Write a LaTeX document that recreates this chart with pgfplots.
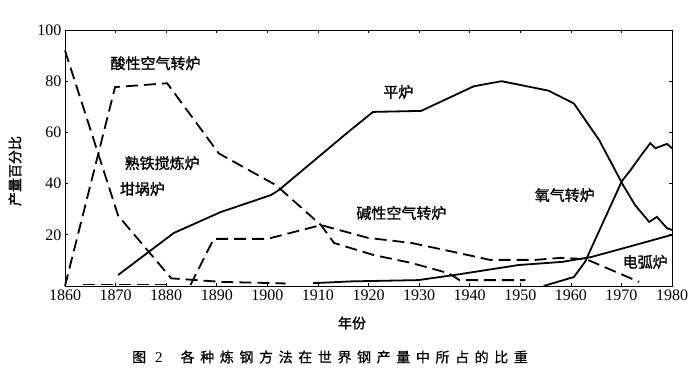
\documentclass[border=0pt]{standalone}
\usepackage{fontspec}
\setmainfont{Liberation Serif}
\newfontfamily\cjk{Noto Sans CJK SC}
\newfontfamily\cjkb[FakeBold=1.2]{Noto Sans CJK SC}
\newfontfamily\cjkspaced[LetterSpace=40,FakeBold=0.6]{Noto Sans CJK SC}
\usepackage{pgfplots}
\pgfplotsset{compat=1.18}
\begin{document}
\begin{tikzpicture}
\useasboundingbox (-65pt,-101pt) rectangle (635pt,286pt);
\begin{axis}[
  at={(0pt,0pt)}, anchor=south west,
  scale only axis, width=607pt, height=256pt,
  xmin=1860, xmax=1980, ymin=0, ymax=100,
  xtick={1860,1870,...,1980}, ytick={20,40,60,80,100},
  tick align=inside, major tick length=3pt,
  axis line style={line width=0.8pt},
  every tick/.style={line width=0.6pt, black},
  /pgf/number format/1000 sep={},
  /pgf/number format/assume math mode=true,
  ticklabel style={font=\fontsize{16}{18}\selectfont},
  clip=false,
  dashed line/.style={line width=1.8pt, black, dash pattern=on 12pt off 6pt},
  solid line/.style={line width=1.8pt, black},
]
% 熟铁搅炼炉 / 坩埚炉 (steep falling)
\addplot[dashed line] coordinates {(1860,92) (1870.5,27.5) (1881,3) (1891,1.6) (1903.6,1.0)};
% crucible near baseline
\addplot[dashed line] coordinates {(1863.5,0.6) (1881,0.6)};
% 酸性空气转炉
\addplot[dashed line] coordinates {(1860,0) (1869.9,77.7) (1880.2,79.2) (1890.4,51.8) (1901.7,39.4) (1910.6,23.8) (1913.2,16.8) (1916.5,14.8) (1921,12.1) (1928.5,9) (1935.8,5) (1938,2.3) (1951,2.3)};
% 碱性空气转炉
\addplot[dashed line] coordinates {(1884.8,0.4) (1889.4,18.4) (1900,18.4) (1910.6,23.8) (1919.9,18.8) (1928.5,16.8) (1937.8,12.9) (1944,10.2) (1953,10.2) (1958,11) (1963,10.5) (1973.5,1.6)};
% 平炉
\addplot[solid line] coordinates {(1870.5,4.3) (1881.5,20.7) (1890.8,28.9) (1900.7,35.5) (1902.3,37.5) (1916.5,61) (1920.9,68) (1930.4,68.4) (1940.8,78) (1946.3,80) (1955.6,76.3) (1960.6,71.3) (1965.6,57) (1970.3,39.5) (1972.7,31.6) (1975.5,25) (1977,27) (1979,22.6) (1980,21.9)};
% 氧气转炉
\addplot[solid line] coordinates {(1954.6,0) (1960.6,3.5) (1962.8,9.4) (1970.1,41) (1971.7,45) (1973.7,50.5) (1975.7,55.8) (1976.7,53.8) (1979,55.5) (1980,53.8)};
% 电弧炉
\addplot[solid line] coordinates {(1909,1.1) (1916.5,1.8) (1929.8,2.3) (1937,4.3) (1949.7,8.2) (1958.2,9.4) (1964,11.3) (1972.7,16) (1980,20)};

\node[font=\cjkb\fontsize{15}{17}\selectfont] at (axis cs:1877.9,87) {酸性空气转炉};
\node[font=\cjkb\fontsize{15}{17}\selectfont] at (axis cs:1879.2,48) {熟铁搅炼炉};
\node[font=\cjkb\fontsize{15}{17}\selectfont] at (axis cs:1875.3,37.9) {坩埚炉};
\node[font=\cjkb\fontsize{15}{17}\selectfont] at (axis cs:1925.9,75.8) {平炉};
\node[font=\cjkb\fontsize{15}{17}\selectfont] at (axis cs:1926.5,28.5) {碱性空气转炉};
\node[font=\cjkb\fontsize{15}{17}\selectfont] at (axis cs:1958.8,35.5) {氧气转炉};
\node[font=\cjkb\fontsize{15}{17}\selectfont] at (axis cs:1974.7,9.4) {电弧炉};
\end{axis}
\node[font=\cjkb\fontsize{14}{16}\selectfont, rotate=90] at (-50pt,115pt) {产量百分比};
\node[font=\cjkb\fontsize{14}{16}\selectfont] at (287pt,-37pt) {年份};
\node[anchor=west, inner sep=0pt] at (67pt,-71pt) {{\cjkspaced\fontsize{14}{16}\selectfont 图}\hspace{9pt}{\fontsize{15}{16}\selectfont 2}\hspace{18pt}{\cjkspaced\fontsize{14}{16}\selectfont 各种炼钢方法在世界钢产量中所占的比重}};
\end{tikzpicture}
\end{document}
